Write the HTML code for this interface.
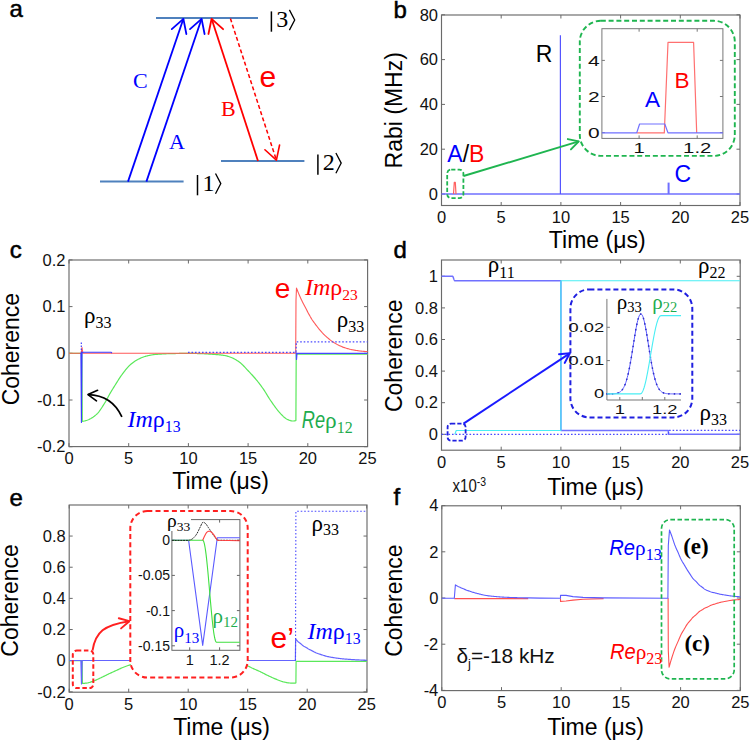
<!DOCTYPE html>
<html><head><meta charset="utf-8"><style>html,body{margin:0;padding:0;background:#fff;}svg{display:block;}</style></head>
<body><svg width="750" height="741" viewBox="0 0 750 741">
<rect width="750" height="741" fill="#fff"/>
<line x1="156.00" y1="18.00" x2="258.00" y2="18.00" stroke="#4f81bd" stroke-width="2" />
<line x1="100.00" y1="181.60" x2="183.60" y2="181.60" stroke="#4f81bd" stroke-width="2" />
<line x1="221.00" y1="161.00" x2="304.40" y2="161.00" stroke="#4f81bd" stroke-width="2" />
<line x1="128.00" y1="181.60" x2="183.40" y2="18.80" stroke="#0000ff" stroke-width="1.8" />
<polyline points="186.36,34.02 183.40,18.80 171.78,29.05" fill="none" stroke="#0000ff" stroke-width="1.8" stroke-linejoin="round" stroke-linecap="round"/>
<line x1="146.40" y1="181.60" x2="201.60" y2="18.80" stroke="#0000ff" stroke-width="1.8" />
<polyline points="204.57,34.01 201.60,18.80 189.99,29.07" fill="none" stroke="#0000ff" stroke-width="1.8" stroke-linejoin="round" stroke-linecap="round"/>
<line x1="258.00" y1="161.00" x2="211.60" y2="18.80" stroke="#ff0000" stroke-width="1.8" />
<polyline points="223.09,29.20 211.60,18.80 208.45,33.98" fill="none" stroke="#ff0000" stroke-width="1.8" stroke-linejoin="round" stroke-linecap="round"/>
<line x1="230.40" y1="18.50" x2="276.40" y2="160.20" stroke="#ff0000" stroke-width="1.5" stroke-dasharray="4 2.5"/>
<polyline points="264.92,149.78 276.40,160.20 279.57,145.03" fill="none" stroke="#ff0000" stroke-width="1.6" stroke-linejoin="round" stroke-linecap="round"/>
<text x="133.00" y="88.00" font-family='"Liberation Serif", serif' font-size="22" text-anchor="start" fill="#0000ff" font-weight="normal" font-style="normal" >C</text>
<text x="169.00" y="149.00" font-family='"Liberation Serif", serif' font-size="22" text-anchor="start" fill="#0000ff" font-weight="normal" font-style="normal" >A</text>
<text x="221.00" y="115.60" font-family='"Liberation Serif", serif' font-size="22" text-anchor="start" fill="#ff0000" font-weight="normal" font-style="normal" >B</text>
<text x="259.50" y="87.00" font-family='"Liberation Sans", sans-serif' font-size="30" text-anchor="start" fill="#ff0000" font-weight="normal" font-style="normal" >e</text>
<line x1="271.40" y1="11.40" x2="271.40" y2="31.70" stroke="#000" stroke-width="1.5" />
<text x="276.30" y="27.10" font-family='"Liberation Serif", serif' font-size="24" text-anchor="start" fill="#000" font-weight="normal" font-style="normal" >3</text>
<path d="M289.4,9.9 L294.7,20.0 L289.4,30.1" fill="none" stroke="#000" stroke-width="1.3" />
<line x1="197.50" y1="175.00" x2="197.50" y2="195.30" stroke="#000" stroke-width="1.5" />
<text x="202.40" y="190.70" font-family='"Liberation Serif", serif' font-size="24" text-anchor="start" fill="#000" font-weight="normal" font-style="normal" >1</text>
<path d="M215.5,173.5 L220.8,183.6 L215.5,193.7" fill="none" stroke="#000" stroke-width="1.3" />
<line x1="317.90" y1="154.50" x2="317.90" y2="174.80" stroke="#000" stroke-width="1.5" />
<text x="322.80" y="170.20" font-family='"Liberation Serif", serif' font-size="24" text-anchor="start" fill="#000" font-weight="normal" font-style="normal" >2</text>
<path d="M335.9,153.0 L341.2,163.1 L335.9,173.2" fill="none" stroke="#000" stroke-width="1.3" />
<text x="9.60" y="17.10" font-family='"Liberation Sans", sans-serif' font-size="24" text-anchor="start" fill="#000" font-weight="normal" font-style="normal" stroke="#000" stroke-width="0.5">a</text>
<rect x="441.5" y="15" width="298.5" height="190.5" fill="none" stroke="#6a6a6a" stroke-width="1.15"/>
<line x1="441.50" y1="205.50" x2="441.50" y2="202.00" stroke="#6a6a6a" stroke-width="1" />
<line x1="441.50" y1="15.00" x2="441.50" y2="18.50" stroke="#6a6a6a" stroke-width="1" />
<text x="0" y="0" transform="translate(441.50,222.90) scale(1.0,1.03) " font-family='"Liberation Sans", sans-serif' font-size="16.5" text-anchor="middle" fill="#111" font-weight="normal" font-style="normal">0</text>
<line x1="501.20" y1="205.50" x2="501.20" y2="202.00" stroke="#6a6a6a" stroke-width="1" />
<line x1="501.20" y1="15.00" x2="501.20" y2="18.50" stroke="#6a6a6a" stroke-width="1" />
<text x="0" y="0" transform="translate(501.20,222.90) scale(1.0,1.03) " font-family='"Liberation Sans", sans-serif' font-size="16.5" text-anchor="middle" fill="#111" font-weight="normal" font-style="normal">5</text>
<line x1="560.90" y1="205.50" x2="560.90" y2="202.00" stroke="#6a6a6a" stroke-width="1" />
<line x1="560.90" y1="15.00" x2="560.90" y2="18.50" stroke="#6a6a6a" stroke-width="1" />
<text x="0" y="0" transform="translate(560.90,222.90) scale(1.0,1.03) " font-family='"Liberation Sans", sans-serif' font-size="16.5" text-anchor="middle" fill="#111" font-weight="normal" font-style="normal">10</text>
<line x1="620.60" y1="205.50" x2="620.60" y2="202.00" stroke="#6a6a6a" stroke-width="1" />
<line x1="620.60" y1="15.00" x2="620.60" y2="18.50" stroke="#6a6a6a" stroke-width="1" />
<text x="0" y="0" transform="translate(620.60,222.90) scale(1.0,1.03) " font-family='"Liberation Sans", sans-serif' font-size="16.5" text-anchor="middle" fill="#111" font-weight="normal" font-style="normal">15</text>
<line x1="680.30" y1="205.50" x2="680.30" y2="202.00" stroke="#6a6a6a" stroke-width="1" />
<line x1="680.30" y1="15.00" x2="680.30" y2="18.50" stroke="#6a6a6a" stroke-width="1" />
<text x="0" y="0" transform="translate(680.30,222.90) scale(1.0,1.03) " font-family='"Liberation Sans", sans-serif' font-size="16.5" text-anchor="middle" fill="#111" font-weight="normal" font-style="normal">20</text>
<line x1="740.00" y1="205.50" x2="740.00" y2="202.00" stroke="#6a6a6a" stroke-width="1" />
<line x1="740.00" y1="15.00" x2="740.00" y2="18.50" stroke="#6a6a6a" stroke-width="1" />
<text x="0" y="0" transform="translate(740.00,222.90) scale(1.0,1.03) " font-family='"Liberation Sans", sans-serif' font-size="16.5" text-anchor="middle" fill="#111" font-weight="normal" font-style="normal">25</text>
<line x1="441.50" y1="194.00" x2="445.00" y2="194.00" stroke="#6a6a6a" stroke-width="1" />
<line x1="740.00" y1="194.00" x2="736.50" y2="194.00" stroke="#6a6a6a" stroke-width="1" />
<text x="0" y="0" transform="translate(438.00,199.70) scale(1.0,1.03) " font-family='"Liberation Sans", sans-serif' font-size="16.5" text-anchor="end" fill="#111" font-weight="normal" font-style="normal">0</text>
<line x1="441.50" y1="149.20" x2="445.00" y2="149.20" stroke="#6a6a6a" stroke-width="1" />
<line x1="740.00" y1="149.20" x2="736.50" y2="149.20" stroke="#6a6a6a" stroke-width="1" />
<text x="0" y="0" transform="translate(438.00,154.90) scale(1.0,1.03) " font-family='"Liberation Sans", sans-serif' font-size="16.5" text-anchor="end" fill="#111" font-weight="normal" font-style="normal">20</text>
<line x1="441.50" y1="104.40" x2="445.00" y2="104.40" stroke="#6a6a6a" stroke-width="1" />
<line x1="740.00" y1="104.40" x2="736.50" y2="104.40" stroke="#6a6a6a" stroke-width="1" />
<text x="0" y="0" transform="translate(438.00,110.10) scale(1.0,1.03) " font-family='"Liberation Sans", sans-serif' font-size="16.5" text-anchor="end" fill="#111" font-weight="normal" font-style="normal">40</text>
<line x1="441.50" y1="59.60" x2="445.00" y2="59.60" stroke="#6a6a6a" stroke-width="1" />
<line x1="740.00" y1="59.60" x2="736.50" y2="59.60" stroke="#6a6a6a" stroke-width="1" />
<text x="0" y="0" transform="translate(438.00,65.30) scale(1.0,1.03) " font-family='"Liberation Sans", sans-serif' font-size="16.5" text-anchor="end" fill="#111" font-weight="normal" font-style="normal">60</text>
<line x1="441.50" y1="14.80" x2="445.00" y2="14.80" stroke="#6a6a6a" stroke-width="1" />
<line x1="740.00" y1="14.80" x2="736.50" y2="14.80" stroke="#6a6a6a" stroke-width="1" />
<text x="0" y="0" transform="translate(438.00,20.50) scale(1.0,1.03) " font-family='"Liberation Sans", sans-serif' font-size="16.5" text-anchor="end" fill="#111" font-weight="normal" font-style="normal">80</text>
<text x="393.50" y="18.40" font-family='"Liberation Sans", sans-serif' font-size="24" text-anchor="start" fill="#000" font-weight="normal" font-style="normal" stroke="#000" stroke-width="0.5">b</text>
<polyline points="441.50,194.00 740.00,194.00" fill="none" stroke="#6f6fff" stroke-width="1.5" stroke-linejoin="round" />
<line x1="560.40" y1="194.00" x2="560.40" y2="35.30" stroke="#5555ff" stroke-width="1.2" />
<line x1="668.60" y1="194.00" x2="668.60" y2="182.60" stroke="#6f6fff" stroke-width="2" />
<polyline points="453.50,194.00 454.30,182.30 455.30,182.30 456.00,194.00" fill="none" stroke="#ff6060" stroke-width="1.2" stroke-linejoin="round" />
<text x="535.80" y="61.90" font-family='"Liberation Sans", sans-serif' font-size="23" text-anchor="start" fill="#000" font-weight="normal" font-style="normal" >R</text>
<text x="674.60" y="181.50" font-family='"Liberation Sans", sans-serif' font-size="23" text-anchor="start" fill="#0000ff" font-weight="normal" font-style="normal" >C</text>
<text x="447.3" y="162.4" font-family='"Liberation Sans", sans-serif' font-size="23"><tspan fill="#0000ff">A</tspan><tspan fill="#000">/</tspan><tspan fill="#ff0000">B</tspan></text>
<rect x="447.20" y="169.60" width="16.20" height="28.60" rx="4" ry="4" fill="none" stroke="#1fb550" stroke-width="1.8" stroke-dasharray="4.2 2.2"/>
<line x1="463.50" y1="176.00" x2="578.80" y2="141.40" stroke="#1fb550" stroke-width="1.9" />
<polyline points="570.93,149.37 578.80,141.40 567.84,139.08" fill="none" stroke="#1fb550" stroke-width="1.9" stroke-linejoin="round" stroke-linecap="round"/>
<rect x="579.80" y="20.80" width="155.00" height="135.10" rx="21" ry="21" fill="none" stroke="#1fb550" stroke-width="1.9" stroke-dasharray="5 2.8"/>
<rect x="601.9" y="28.7" width="121" height="109.7" fill="#fff" stroke="#777" stroke-width="1"/>
<line x1="601.90" y1="132.60" x2="604.90" y2="132.60" stroke="#777" stroke-width="1" />
<line x1="722.90" y1="132.60" x2="719.90" y2="132.60" stroke="#777" stroke-width="1" />
<text x="0" y="0" transform="translate(599.60,138.20) scale(1.35,1.0) " font-family='"Liberation Sans", sans-serif' font-size="15.5" text-anchor="end" fill="#111" font-weight="normal" font-style="normal">0</text>
<line x1="601.90" y1="96.50" x2="604.90" y2="96.50" stroke="#777" stroke-width="1" />
<line x1="722.90" y1="96.50" x2="719.90" y2="96.50" stroke="#777" stroke-width="1" />
<text x="0" y="0" transform="translate(599.60,102.10) scale(1.35,1.0) " font-family='"Liberation Sans", sans-serif' font-size="15.5" text-anchor="end" fill="#111" font-weight="normal" font-style="normal">2</text>
<line x1="601.90" y1="60.40" x2="604.90" y2="60.40" stroke="#777" stroke-width="1" />
<line x1="722.90" y1="60.40" x2="719.90" y2="60.40" stroke="#777" stroke-width="1" />
<text x="0" y="0" transform="translate(599.60,66.00) scale(1.35,1.0) " font-family='"Liberation Sans", sans-serif' font-size="15.5" text-anchor="end" fill="#111" font-weight="normal" font-style="normal">4</text>
<line x1="639.10" y1="138.40" x2="639.10" y2="135.40" stroke="#777" stroke-width="1" />
<line x1="639.10" y1="28.70" x2="639.10" y2="31.70" stroke="#777" stroke-width="1" />
<text x="0" y="0" transform="translate(639.10,153.20) scale(1.4,1.0) " font-family='"Liberation Sans", sans-serif' font-size="14.5" text-anchor="middle" fill="#111" font-weight="normal" font-style="normal">1</text>
<line x1="697.20" y1="138.40" x2="697.20" y2="135.40" stroke="#777" stroke-width="1" />
<line x1="697.20" y1="28.70" x2="697.20" y2="31.70" stroke="#777" stroke-width="1" />
<text x="0" y="0" transform="translate(697.20,153.20) scale(1.4,1.0) " font-family='"Liberation Sans", sans-serif' font-size="14.5" text-anchor="middle" fill="#111" font-weight="normal" font-style="normal">1.2</text>
<polyline points="637.00,132.90 664.30,132.90 668.00,42.40 693.60,42.40 696.70,132.90" fill="none" stroke="#ff7070" stroke-width="1.2" stroke-linejoin="round" />
<polyline points="601.90,132.90 636.70,132.90 639.60,124.00 664.80,124.00 668.00,132.90 722.90,132.90" fill="none" stroke="#7070ff" stroke-width="1.2" stroke-linejoin="round" />
<text x="645.00" y="107.20" font-family='"Liberation Sans", sans-serif' font-size="22.5" text-anchor="start" fill="#0000ff" font-weight="normal" font-style="normal" >A</text>
<text x="674.50" y="88.20" font-family='"Liberation Sans", sans-serif' font-size="22.5" text-anchor="start" fill="#ff0000" font-weight="normal" font-style="normal" >B</text>
<text x="597.20" y="247.60" font-family='"Liberation Sans", sans-serif' font-size="23" text-anchor="middle" fill="#000" font-weight="normal" font-style="normal" >Time (μs)</text>
<text x="0" y="0" transform="translate(401.70,110.30) scale(1.0,1.0) rotate(-90)" font-family='"Liberation Sans", sans-serif' font-size="23" text-anchor="middle" fill="#000" font-weight="normal" font-style="normal">Rabi (MHz)</text>
<rect x="69" y="260" width="298.6" height="186.60000000000002" fill="none" stroke="#6a6a6a" stroke-width="1.15"/>
<line x1="69.00" y1="446.60" x2="69.00" y2="443.10" stroke="#6a6a6a" stroke-width="1" />
<line x1="69.00" y1="260.00" x2="69.00" y2="263.50" stroke="#6a6a6a" stroke-width="1" />
<text x="0" y="0" transform="translate(69.00,464.00) scale(1.0,1.03) " font-family='"Liberation Sans", sans-serif' font-size="16.5" text-anchor="middle" fill="#111" font-weight="normal" font-style="normal">0</text>
<line x1="128.70" y1="446.60" x2="128.70" y2="443.10" stroke="#6a6a6a" stroke-width="1" />
<line x1="128.70" y1="260.00" x2="128.70" y2="263.50" stroke="#6a6a6a" stroke-width="1" />
<text x="0" y="0" transform="translate(128.70,464.00) scale(1.0,1.03) " font-family='"Liberation Sans", sans-serif' font-size="16.5" text-anchor="middle" fill="#111" font-weight="normal" font-style="normal">5</text>
<line x1="188.40" y1="446.60" x2="188.40" y2="443.10" stroke="#6a6a6a" stroke-width="1" />
<line x1="188.40" y1="260.00" x2="188.40" y2="263.50" stroke="#6a6a6a" stroke-width="1" />
<text x="0" y="0" transform="translate(188.40,464.00) scale(1.0,1.03) " font-family='"Liberation Sans", sans-serif' font-size="16.5" text-anchor="middle" fill="#111" font-weight="normal" font-style="normal">10</text>
<line x1="248.10" y1="446.60" x2="248.10" y2="443.10" stroke="#6a6a6a" stroke-width="1" />
<line x1="248.10" y1="260.00" x2="248.10" y2="263.50" stroke="#6a6a6a" stroke-width="1" />
<text x="0" y="0" transform="translate(248.10,464.00) scale(1.0,1.03) " font-family='"Liberation Sans", sans-serif' font-size="16.5" text-anchor="middle" fill="#111" font-weight="normal" font-style="normal">15</text>
<line x1="307.80" y1="446.60" x2="307.80" y2="443.10" stroke="#6a6a6a" stroke-width="1" />
<line x1="307.80" y1="260.00" x2="307.80" y2="263.50" stroke="#6a6a6a" stroke-width="1" />
<text x="0" y="0" transform="translate(307.80,464.00) scale(1.0,1.03) " font-family='"Liberation Sans", sans-serif' font-size="16.5" text-anchor="middle" fill="#111" font-weight="normal" font-style="normal">20</text>
<line x1="367.50" y1="446.60" x2="367.50" y2="443.10" stroke="#6a6a6a" stroke-width="1" />
<line x1="367.50" y1="260.00" x2="367.50" y2="263.50" stroke="#6a6a6a" stroke-width="1" />
<text x="0" y="0" transform="translate(367.50,464.00) scale(1.0,1.03) " font-family='"Liberation Sans", sans-serif' font-size="16.5" text-anchor="middle" fill="#111" font-weight="normal" font-style="normal">25</text>
<line x1="69.00" y1="446.70" x2="72.50" y2="446.70" stroke="#6a6a6a" stroke-width="1" />
<line x1="367.60" y1="446.70" x2="364.10" y2="446.70" stroke="#6a6a6a" stroke-width="1" />
<text x="0" y="0" transform="translate(65.50,452.40) scale(1.0,1.03) " font-family='"Liberation Sans", sans-serif' font-size="16.5" text-anchor="end" fill="#111" font-weight="normal" font-style="normal">-0.2</text>
<line x1="69.00" y1="400.00" x2="72.50" y2="400.00" stroke="#6a6a6a" stroke-width="1" />
<line x1="367.60" y1="400.00" x2="364.10" y2="400.00" stroke="#6a6a6a" stroke-width="1" />
<text x="0" y="0" transform="translate(65.50,405.70) scale(1.0,1.03) " font-family='"Liberation Sans", sans-serif' font-size="16.5" text-anchor="end" fill="#111" font-weight="normal" font-style="normal">-0.1</text>
<line x1="69.00" y1="353.30" x2="72.50" y2="353.30" stroke="#6a6a6a" stroke-width="1" />
<line x1="367.60" y1="353.30" x2="364.10" y2="353.30" stroke="#6a6a6a" stroke-width="1" />
<text x="0" y="0" transform="translate(65.50,359.00) scale(1.0,1.03) " font-family='"Liberation Sans", sans-serif' font-size="16.5" text-anchor="end" fill="#111" font-weight="normal" font-style="normal">0</text>
<line x1="69.00" y1="306.60" x2="72.50" y2="306.60" stroke="#6a6a6a" stroke-width="1" />
<line x1="367.60" y1="306.60" x2="364.10" y2="306.60" stroke="#6a6a6a" stroke-width="1" />
<text x="0" y="0" transform="translate(65.50,312.30) scale(1.0,1.03) " font-family='"Liberation Sans", sans-serif' font-size="16.5" text-anchor="end" fill="#111" font-weight="normal" font-style="normal">0.1</text>
<line x1="69.00" y1="259.90" x2="72.50" y2="259.90" stroke="#6a6a6a" stroke-width="1" />
<line x1="367.60" y1="259.90" x2="364.10" y2="259.90" stroke="#6a6a6a" stroke-width="1" />
<text x="0" y="0" transform="translate(65.50,265.60) scale(1.0,1.03) " font-family='"Liberation Sans", sans-serif' font-size="16.5" text-anchor="end" fill="#111" font-weight="normal" font-style="normal">0.2</text>
<text x="9.80" y="258.00" font-family='"Liberation Sans", sans-serif' font-size="24" text-anchor="start" fill="#000" font-weight="normal" font-style="normal" stroke="#000" stroke-width="0.5">c</text>
<polyline points="69.00,353.30 81.80,353.30 82.30,421.30 82.30,421.30 82.96,421.23 83.63,421.13 84.29,421.00 84.96,420.86 85.62,420.70 86.29,420.52 86.95,420.31 87.62,420.06 88.28,419.78 88.95,419.47 89.61,419.14 90.28,418.80 90.94,418.44 91.61,418.05 92.27,417.63 92.94,417.19 93.60,416.72 94.27,416.23 94.93,415.71 95.60,415.16 96.26,414.58 96.93,413.97 97.59,413.31 98.25,412.57 98.92,411.76 99.58,410.88 100.25,409.96 100.91,408.99 101.58,407.98 102.24,406.95 102.91,405.91 103.57,404.85 104.24,403.80 104.90,402.72 105.57,401.58 106.23,400.39 106.90,399.16 107.56,397.92 108.23,396.69 108.89,395.46 109.56,394.27 110.22,393.12 110.89,392.00 111.55,390.89 112.22,389.80 112.88,388.71 113.54,387.64 114.21,386.57 114.87,385.52 115.54,384.46 116.20,383.40 116.87,382.34 117.53,381.28 118.20,380.23 118.86,379.19 119.53,378.17 120.19,377.17 120.86,376.20 121.52,375.25 122.19,374.35 122.85,373.45 123.52,372.56 124.18,371.67 124.85,370.80 125.51,369.95 126.18,369.12 126.84,368.31 127.51,367.54 128.17,366.80 128.83,366.11 129.50,365.46 130.16,364.86 130.83,364.28 131.49,363.73 132.16,363.20 132.82,362.68 133.49,362.19 134.15,361.72 134.82,361.27 135.48,360.84 136.15,360.43 136.81,360.04 137.48,359.67 138.14,359.33 138.81,359.00 139.47,358.68 140.14,358.36 140.80,358.07 141.47,357.78 142.13,357.50 142.79,357.24 143.46,357.00 144.12,356.77 144.79,356.55 145.45,356.35 146.12,356.17 146.78,355.99 147.45,355.83 148.11,355.66 148.78,355.51 149.44,355.36 150.11,355.22 150.77,355.09 151.44,354.97 152.10,354.86 152.77,354.76 153.43,354.67 154.10,354.59 154.76,354.52 155.43,354.46 156.09,354.40 156.76,354.34 157.42,354.29 158.08,354.24 158.75,354.19 159.41,354.15 160.08,354.11 160.74,354.07 161.41,354.03 162.07,354.00 162.74,353.96 163.40,353.93 164.07,353.89 164.73,353.86 165.40,353.83 166.06,353.80 166.73,353.77 167.39,353.74 168.06,353.72 168.72,353.69 169.39,353.67 170.05,353.65 170.72,353.63 171.38,353.61 172.05,353.60 172.71,353.59 173.37,353.57 174.04,353.56 174.70,353.55 175.37,353.54 176.03,353.52 176.70,353.51 177.36,353.50 178.03,353.49 178.69,353.48 179.36,353.47 180.02,353.46 180.69,353.45 181.35,353.44 182.02,353.44 182.68,353.43 183.35,353.42 184.01,353.42 184.68,353.41 185.34,353.41 186.01,353.40 186.67,353.40 187.34,353.40 188.00,353.40 188.00,353.40 188.67,353.40 189.33,353.40 190.00,353.41 190.66,353.41 191.33,353.42 192.00,353.43 192.66,353.44 193.33,353.45 193.99,353.46 194.66,353.47 195.32,353.49 195.99,353.50 196.66,353.52 197.32,353.53 197.99,353.55 198.65,353.57 199.32,353.58 199.99,353.60 200.65,353.62 201.32,353.64 201.98,353.67 202.65,353.69 203.31,353.73 203.98,353.76 204.65,353.79 205.31,353.83 205.98,353.87 206.64,353.91 207.31,353.95 207.98,353.99 208.64,354.04 209.31,354.08 209.97,354.12 210.64,354.17 211.30,354.21 211.97,354.25 212.64,354.30 213.30,354.34 213.97,354.39 214.63,354.44 215.30,354.49 215.97,354.54 216.63,354.59 217.30,354.65 217.96,354.70 218.63,354.76 219.29,354.83 219.96,354.90 220.63,354.97 221.29,355.05 221.96,355.13 222.62,355.21 223.29,355.30 223.96,355.39 224.62,355.50 225.29,355.63 225.95,355.78 226.62,355.95 227.28,356.13 227.95,356.33 228.62,356.55 229.28,356.77 229.95,357.01 230.61,357.26 231.28,357.52 231.95,357.78 232.61,358.06 233.28,358.36 233.94,358.69 234.61,359.04 235.27,359.42 235.94,359.81 236.61,360.23 237.27,360.66 237.94,361.11 238.60,361.58 239.27,362.06 239.94,362.55 240.60,363.07 241.27,363.63 241.93,364.24 242.60,364.88 243.26,365.54 243.93,366.23 244.60,366.93 245.26,367.65 245.93,368.37 246.59,369.10 247.26,369.82 247.93,370.52 248.59,371.22 249.26,371.92 249.92,372.62 250.59,373.33 251.25,374.04 251.92,374.76 252.59,375.49 253.25,376.23 253.92,376.98 254.58,377.74 255.25,378.51 255.92,379.30 256.58,380.10 257.25,380.92 257.91,381.75 258.58,382.60 259.24,383.45 259.91,384.33 260.58,385.22 261.24,386.12 261.91,387.03 262.57,387.97 263.24,388.91 263.91,389.89 264.57,390.91 265.24,391.96 265.90,393.04 266.57,394.14 267.23,395.24 267.90,396.33 268.57,397.42 269.23,398.48 269.90,399.51 270.56,400.50 271.23,401.46 271.90,402.42 272.56,403.37 273.23,404.32 273.89,405.26 274.56,406.19 275.22,407.11 275.89,408.01 276.56,408.89 277.22,409.75 277.89,410.59 278.55,411.40 279.22,412.18 279.89,412.93 280.55,413.64 281.22,414.32 281.88,415.00 282.55,415.67 283.21,416.33 283.88,416.96 284.55,417.55 285.21,418.09 285.88,418.57 286.54,418.97 287.21,419.30 287.88,419.60 288.54,419.90 289.21,420.18 289.87,420.44 290.54,420.65 291.20,420.83 291.87,420.94 292.54,421.00 293.20,421.00 293.87,420.97 294.53,420.91 295.20,420.80 295.90,420.50 296.20,354.20 367.60,354.20" fill="none" stroke="#5ae85a" stroke-width="1.2" stroke-linejoin="round" />
<polyline points="69.00,353.20 81.20,353.20 82.00,347.50 82.80,353.20 295.70,353.20 296.00,300.00 296.50,288.10 296.50,288.10 297.16,289.80 297.83,291.46 298.49,293.09 299.16,294.68 299.82,296.22 300.49,297.71 301.15,299.16 301.82,300.56 302.48,301.92 303.14,303.24 303.81,304.54 304.47,305.82 305.14,307.09 305.80,308.35 306.47,309.61 307.13,310.87 307.80,312.14 308.46,313.40 309.13,314.63 309.79,315.84 310.45,317.01 311.12,318.13 311.78,319.19 312.45,320.20 313.11,321.18 313.78,322.12 314.44,323.03 315.11,323.93 315.77,324.80 316.43,325.67 317.10,326.53 317.76,327.38 318.43,328.23 319.09,329.06 319.76,329.88 320.42,330.67 321.09,331.45 321.75,332.20 322.41,332.92 323.08,333.61 323.74,334.28 324.41,334.94 325.07,335.57 325.74,336.19 326.40,336.79 327.07,337.37 327.73,337.94 328.40,338.50 329.06,339.04 329.72,339.57 330.39,340.09 331.05,340.59 331.72,341.08 332.38,341.55 333.05,342.00 333.71,342.43 334.38,342.85 335.04,343.26 335.70,343.65 336.37,344.03 337.03,344.39 337.70,344.75 338.36,345.08 339.03,345.41 339.69,345.72 340.36,346.03 341.02,346.32 341.69,346.61 342.35,346.88 343.01,347.14 343.68,347.39 344.34,347.62 345.01,347.84 345.67,348.06 346.34,348.26 347.00,348.46 347.67,348.65 348.33,348.83 348.99,349.00 349.66,349.16 350.32,349.32 350.99,349.46 351.65,349.61 352.32,349.74 352.98,349.87 353.65,350.00 354.31,350.11 354.97,350.23 355.64,350.34 356.30,350.45 356.97,350.56 357.63,350.66 358.30,350.76 358.96,350.85 359.63,350.93 360.29,351.01 360.96,351.08 361.62,351.16 362.28,351.22 362.95,351.29 363.61,351.35 364.28,351.41 364.94,351.46 365.61,351.50 366.27,351.54 366.94,351.57 367.60,351.60" fill="none" stroke="#ff5a5a" stroke-width="1.1" stroke-linejoin="round" />
<polyline points="80.90,353.10 81.40,422.40 82.00,353.00 83.00,352.20 111.00,352.30 112.00,353.10" fill="none" stroke="#3a3aff" stroke-width="1.1" stroke-linejoin="round" />
<polyline points="295.50,352.80 296.30,352.80 296.50,359.50 297.00,353.30 367.60,353.30" fill="none" stroke="#4848ff" stroke-width="1.2" stroke-linejoin="round" />
<line x1="81.30" y1="353.00" x2="81.30" y2="341.50" stroke="#3030ff" stroke-width="1.1" stroke-dasharray="1.5 1.5"/>
<polyline points="188.00,352.40 296.00,352.40 296.30,341.80 367.60,341.80" fill="none" stroke="#4a4aff" stroke-width="1.2" stroke-linejoin="round" stroke-dasharray="1.6 1.9"/>
<text x="83.90" y="322.90" font-family='"Liberation Serif", serif' font-size="23" text-anchor="start" fill="#000" font-weight="normal" font-style="normal" ><tspan font-family='"Liberation Serif", serif'>ρ</tspan><tspan font-family='"Liberation Serif", serif' font-size="16" dy="4.80">33</tspan></text>
<text x="274.70" y="297.50" font-family='"Liberation Sans", sans-serif' font-size="28" text-anchor="start" fill="#ff0000" font-weight="normal" font-style="normal" >e</text>
<text x="0" y="0" transform="translate(305.00,294.70) scale(1.0,1.0) " font-family='"Liberation Serif", serif' font-size="24" text-anchor="start" fill="#ff0000" font-weight="normal" font-style="italic">Im</text>
<text x="330.32" y="294.70" font-family='"Liberation Serif", serif' font-size="24" text-anchor="start" fill="#ff0000" font-weight="normal" font-style="normal" ><tspan font-family='"Liberation Serif", serif'>ρ</tspan><tspan font-family='"Liberation Serif", serif' font-size="15.5" dy="5.28">23</tspan></text>
<text x="336.80" y="326.80" font-family='"Liberation Serif", serif' font-size="23" text-anchor="start" fill="#000" font-weight="normal" font-style="normal" ><tspan font-family='"Liberation Serif", serif'>ρ</tspan><tspan font-family='"Liberation Serif", serif' font-size="16" dy="4.80">33</tspan></text>
<text x="0" y="0" transform="translate(127.50,427.20) scale(1.0,1.0) " font-family='"Liberation Serif", serif' font-size="24" text-anchor="start" fill="#0000ff" font-weight="normal" font-style="italic">Im</text>
<text x="152.82" y="427.20" font-family='"Liberation Serif", serif' font-size="24" text-anchor="start" fill="#0000ff" font-weight="normal" font-style="normal" ><tspan font-family='"Liberation Serif", serif'>ρ</tspan><tspan font-family='"Liberation Serif", serif' font-size="15.8" dy="5.28">13</tspan></text>
<text x="0" y="0" transform="translate(301.80,427.50) scale(0.78,1.0) " font-family='"Liberation Sans", sans-serif' font-size="23.3" text-anchor="start" fill="#1eac4e" font-weight="normal" font-style="italic">Re</text>
<text x="325.03" y="427.50" font-family='"Liberation Serif", serif' font-size="23.3" text-anchor="start" fill="#1eac4e" font-weight="normal" font-style="normal" ><tspan font-family='"Liberation Serif", serif'>ρ</tspan><tspan font-family='"Liberation Serif", serif' font-size="16" dy="5.00">12</tspan></text>
<path d="M121.9,416.9 C116,404 106,395 88,394.6" fill="none" stroke="#000" stroke-width="1.7" />
<polyline points="97.56,390.26 88.00,394.60 96.46,400.82" fill="none" stroke="#000" stroke-width="1.7" stroke-linejoin="round" stroke-linecap="round"/>
<text x="0" y="0" transform="translate(18.60,349.10) scale(1.0,1.0) rotate(-90)" font-family='"Liberation Sans", sans-serif' font-size="23" text-anchor="middle" fill="#000" font-weight="normal" font-style="normal">Coherence</text>
<text x="220.60" y="489.10" font-family='"Liberation Sans", sans-serif' font-size="23" text-anchor="middle" fill="#000" font-weight="normal" font-style="normal" >Time (μs)</text>
<rect x="441.5" y="260" width="298.70000000000005" height="190.2" fill="none" stroke="#6a6a6a" stroke-width="1.15"/>
<line x1="441.50" y1="450.20" x2="441.50" y2="446.70" stroke="#6a6a6a" stroke-width="1" />
<line x1="441.50" y1="260.00" x2="441.50" y2="263.50" stroke="#6a6a6a" stroke-width="1" />
<text x="0" y="0" transform="translate(441.50,467.60) scale(1.0,1.03) " font-family='"Liberation Sans", sans-serif' font-size="16.5" text-anchor="middle" fill="#111" font-weight="normal" font-style="normal">0</text>
<line x1="501.20" y1="450.20" x2="501.20" y2="446.70" stroke="#6a6a6a" stroke-width="1" />
<line x1="501.20" y1="260.00" x2="501.20" y2="263.50" stroke="#6a6a6a" stroke-width="1" />
<text x="0" y="0" transform="translate(501.20,467.60) scale(1.0,1.03) " font-family='"Liberation Sans", sans-serif' font-size="16.5" text-anchor="middle" fill="#111" font-weight="normal" font-style="normal">5</text>
<line x1="560.90" y1="450.20" x2="560.90" y2="446.70" stroke="#6a6a6a" stroke-width="1" />
<line x1="560.90" y1="260.00" x2="560.90" y2="263.50" stroke="#6a6a6a" stroke-width="1" />
<text x="0" y="0" transform="translate(560.90,467.60) scale(1.0,1.03) " font-family='"Liberation Sans", sans-serif' font-size="16.5" text-anchor="middle" fill="#111" font-weight="normal" font-style="normal">10</text>
<line x1="620.60" y1="450.20" x2="620.60" y2="446.70" stroke="#6a6a6a" stroke-width="1" />
<line x1="620.60" y1="260.00" x2="620.60" y2="263.50" stroke="#6a6a6a" stroke-width="1" />
<text x="0" y="0" transform="translate(620.60,467.60) scale(1.0,1.03) " font-family='"Liberation Sans", sans-serif' font-size="16.5" text-anchor="middle" fill="#111" font-weight="normal" font-style="normal">15</text>
<line x1="680.30" y1="450.20" x2="680.30" y2="446.70" stroke="#6a6a6a" stroke-width="1" />
<line x1="680.30" y1="260.00" x2="680.30" y2="263.50" stroke="#6a6a6a" stroke-width="1" />
<text x="0" y="0" transform="translate(680.30,467.60) scale(1.0,1.03) " font-family='"Liberation Sans", sans-serif' font-size="16.5" text-anchor="middle" fill="#111" font-weight="normal" font-style="normal">20</text>
<line x1="740.00" y1="450.20" x2="740.00" y2="446.70" stroke="#6a6a6a" stroke-width="1" />
<line x1="740.00" y1="260.00" x2="740.00" y2="263.50" stroke="#6a6a6a" stroke-width="1" />
<text x="0" y="0" transform="translate(740.00,467.60) scale(1.0,1.03) " font-family='"Liberation Sans", sans-serif' font-size="16.5" text-anchor="middle" fill="#111" font-weight="normal" font-style="normal">25</text>
<line x1="441.50" y1="434.30" x2="445.00" y2="434.30" stroke="#6a6a6a" stroke-width="1" />
<line x1="740.20" y1="434.30" x2="736.70" y2="434.30" stroke="#6a6a6a" stroke-width="1" />
<text x="0" y="0" transform="translate(438.00,440.00) scale(1.0,1.03) " font-family='"Liberation Sans", sans-serif' font-size="16.5" text-anchor="end" fill="#111" font-weight="normal" font-style="normal">0</text>
<line x1="441.50" y1="402.70" x2="445.00" y2="402.70" stroke="#6a6a6a" stroke-width="1" />
<line x1="740.20" y1="402.70" x2="736.70" y2="402.70" stroke="#6a6a6a" stroke-width="1" />
<text x="0" y="0" transform="translate(438.00,408.40) scale(1.0,1.03) " font-family='"Liberation Sans", sans-serif' font-size="16.5" text-anchor="end" fill="#111" font-weight="normal" font-style="normal">0.2</text>
<line x1="441.50" y1="371.10" x2="445.00" y2="371.10" stroke="#6a6a6a" stroke-width="1" />
<line x1="740.20" y1="371.10" x2="736.70" y2="371.10" stroke="#6a6a6a" stroke-width="1" />
<text x="0" y="0" transform="translate(438.00,376.80) scale(1.0,1.03) " font-family='"Liberation Sans", sans-serif' font-size="16.5" text-anchor="end" fill="#111" font-weight="normal" font-style="normal">0.4</text>
<line x1="441.50" y1="339.50" x2="445.00" y2="339.50" stroke="#6a6a6a" stroke-width="1" />
<line x1="740.20" y1="339.50" x2="736.70" y2="339.50" stroke="#6a6a6a" stroke-width="1" />
<text x="0" y="0" transform="translate(438.00,345.20) scale(1.0,1.03) " font-family='"Liberation Sans", sans-serif' font-size="16.5" text-anchor="end" fill="#111" font-weight="normal" font-style="normal">0.6</text>
<line x1="441.50" y1="307.90" x2="445.00" y2="307.90" stroke="#6a6a6a" stroke-width="1" />
<line x1="740.20" y1="307.90" x2="736.70" y2="307.90" stroke="#6a6a6a" stroke-width="1" />
<text x="0" y="0" transform="translate(438.00,313.60) scale(1.0,1.03) " font-family='"Liberation Sans", sans-serif' font-size="16.5" text-anchor="end" fill="#111" font-weight="normal" font-style="normal">0.8</text>
<line x1="441.50" y1="276.30" x2="445.00" y2="276.30" stroke="#6a6a6a" stroke-width="1" />
<line x1="740.20" y1="276.30" x2="736.70" y2="276.30" stroke="#6a6a6a" stroke-width="1" />
<text x="0" y="0" transform="translate(438.00,282.00) scale(1.0,1.03) " font-family='"Liberation Sans", sans-serif' font-size="16.5" text-anchor="end" fill="#111" font-weight="normal" font-style="normal">1</text>
<text x="393.50" y="257.90" font-family='"Liberation Sans", sans-serif' font-size="24" text-anchor="start" fill="#000" font-weight="normal" font-style="normal" stroke="#000" stroke-width="0.5">d</text>
<text x="595.60" y="494.50" font-family='"Liberation Sans", sans-serif' font-size="23" text-anchor="middle" fill="#000" font-weight="normal" font-style="normal" >Time (μs)</text>
<polyline points="441.50,276.30 452.25,276.30 452.43,276.30 452.62,276.34 452.81,276.50 453.00,276.79 453.19,277.18 453.38,277.66 453.57,278.18 453.75,278.73 453.94,279.26 454.13,279.75 454.32,280.16 454.51,280.47 454.70,280.66 454.89,280.72 455.07,280.72 455.26,280.72 455.45,280.72 455.64,280.72 455.83,280.72 560.90,280.72 560.90,430.51 668.36,430.51 668.36,434.30 740.00,434.30" fill="none" stroke="#7070ff" stroke-width="1.5" stroke-linejoin="round" />
<polyline points="454.63,434.30 454.63,434.30 454.83,434.19 455.03,433.86 455.23,433.35 455.43,432.73 455.63,432.07 455.83,431.46 456.03,430.95 456.23,430.62 456.43,430.51 560.90,430.51 560.90,280.72 740.00,280.72" fill="none" stroke="#48eef4" stroke-width="1.15" stroke-linejoin="round" />
<polyline points="441.50,434.30 668.36,434.30 668.96,430.35 740.00,430.35" fill="none" stroke="#4a4aff" stroke-width="1.2" stroke-linejoin="round" stroke-dasharray="1.6 1.9"/>
<rect x="447.60" y="423.60" width="18.00" height="17.00" rx="3.5" ry="3.5" fill="none" stroke="#2020e0" stroke-width="1.8" stroke-dasharray="4.2 2"/>
<line x1="463.50" y1="423.60" x2="569.80" y2="353.30" stroke="#1a1aff" stroke-width="2" />
<polyline points="564.75,362.85 569.80,353.30 559.04,354.21" fill="none" stroke="#1a1aff" stroke-width="2" stroke-linejoin="round" stroke-linecap="round"/>
<rect x="570.40" y="289.40" width="121.90" height="128.00" rx="19" ry="19" fill="none" stroke="#2020e0" stroke-width="2" stroke-dasharray="5 3"/>
<line x1="606.90" y1="298.90" x2="606.90" y2="400.00" stroke="#777" stroke-width="1" />
<line x1="606.90" y1="400.00" x2="681.00" y2="400.00" stroke="#777" stroke-width="1" />
<line x1="606.90" y1="393.90" x2="609.90" y2="393.90" stroke="#777" stroke-width="1" />
<text x="0" y="0" transform="translate(604.20,398.30) scale(1.5,1.0) " font-family='"Liberation Sans", sans-serif' font-size="12.2" text-anchor="end" fill="#111" font-weight="normal" font-style="normal">0</text>
<line x1="606.90" y1="360.60" x2="609.90" y2="360.60" stroke="#777" stroke-width="1" />
<text x="0" y="0" transform="translate(604.20,365.00) scale(1.5,1.0) " font-family='"Liberation Sans", sans-serif' font-size="12.2" text-anchor="end" fill="#111" font-weight="normal" font-style="normal">0.01</text>
<line x1="606.90" y1="327.30" x2="609.90" y2="327.30" stroke="#777" stroke-width="1" />
<text x="0" y="0" transform="translate(604.20,331.70) scale(1.5,1.0) " font-family='"Liberation Sans", sans-serif' font-size="12.2" text-anchor="end" fill="#111" font-weight="normal" font-style="normal">0.02</text>
<line x1="619.80" y1="400.00" x2="619.80" y2="397.00" stroke="#777" stroke-width="1" />
<text x="0" y="0" transform="translate(619.80,413.80) scale(1.5,1.0) " font-family='"Liberation Sans", sans-serif' font-size="12.2" text-anchor="middle" fill="#111" font-weight="normal" font-style="normal">1</text>
<line x1="642.30" y1="400.00" x2="642.30" y2="397.00" stroke="#777" stroke-width="1" />
<line x1="664.80" y1="400.00" x2="664.80" y2="397.00" stroke="#777" stroke-width="1" />
<text x="0" y="0" transform="translate(664.80,413.80) scale(1.5,1.0) " font-family='"Liberation Sans", sans-serif' font-size="12.2" text-anchor="middle" fill="#111" font-weight="normal" font-style="normal">1.2</text>
<polyline points="606.90,393.90 607.40,393.89 607.89,393.89 608.39,393.89 608.89,393.89 609.39,393.88 609.88,393.88 610.38,393.87 610.88,393.86 611.38,393.85 611.87,393.84 612.37,393.82 612.87,393.80 613.37,393.78 613.86,393.75 614.36,393.71 614.86,393.66 615.35,393.60 615.85,393.52 616.35,393.44 616.85,393.33 617.34,393.20 617.84,393.05 618.34,392.87 618.84,392.65 619.33,392.40 619.83,392.10 620.33,391.75 620.82,391.35 621.32,390.88 621.82,390.34 622.32,389.72 622.81,389.01 623.31,388.21 623.81,387.31 624.31,386.30 624.80,385.17 625.30,383.91 625.80,382.51 626.30,380.98 626.79,379.31 627.29,377.48 627.79,375.51 628.28,373.38 628.78,371.11 629.28,368.69 629.78,366.13 630.27,363.44 630.77,360.64 631.27,357.72 631.77,354.72 632.26,351.65 632.76,348.52 633.26,345.38 633.76,342.23 634.25,339.11 634.75,336.05 635.25,333.08 635.74,330.22 636.24,327.50 636.74,324.97 637.24,322.64 637.73,320.54 638.23,318.70 638.73,317.14 639.23,315.87 639.72,314.92 640.22,314.29 640.72,314.00 641.21,314.05 641.71,314.43 642.21,315.14 642.71,316.18 643.20,317.52 643.70,319.16 644.20,321.07 644.70,323.24 645.19,325.62 645.69,328.21 646.19,330.96 646.69,333.86 647.18,336.86 647.68,339.94 648.18,343.07 648.67,346.21 649.17,349.36 649.67,352.47 650.17,355.53 650.66,358.51 651.16,361.39 651.66,364.17 652.16,366.82 652.65,369.35 653.15,371.73 653.65,373.96 654.14,376.05 654.64,377.98 655.14,379.77 655.64,381.40 656.13,382.90 656.63,384.25 657.13,385.48 657.63,386.58 658.12,387.56 658.62,388.44 659.12,389.21 659.62,389.89 660.11,390.49 660.61,391.01 661.11,391.46 661.60,391.85 662.10,392.18 662.60,392.47 663.10,392.71 663.59,392.92 664.09,393.09 664.59,393.24 665.09,393.36 665.58,393.46 666.08,393.55 666.58,393.61 667.08,393.67 667.57,393.72 668.07,393.75 668.57,393.78 669.06,393.81 669.56,393.83 670.06,393.84 670.56,393.86 671.05,393.87 671.55,393.87 672.05,393.88 672.55,393.88 673.04,393.89 673.54,393.89 674.04,393.89 674.53,393.89 675.03,393.90 675.53,393.90 676.03,393.90 676.52,393.90 677.02,393.90 677.52,393.90 678.02,393.90 678.51,393.90 679.01,393.90 679.51,393.90 680.01,393.90 680.50,393.90 681.00,393.90" fill="none" stroke="#5a5aff" stroke-width="1" stroke-linejoin="round" />
<polyline points="606.90,393.90 607.40,393.89 607.89,393.89 608.39,393.89 608.89,393.89 609.39,393.88 609.88,393.88 610.38,393.87 610.88,393.86 611.38,393.85 611.87,393.84 612.37,393.82 612.87,393.80 613.37,393.78 613.86,393.75 614.36,393.71 614.86,393.66 615.35,393.60 615.85,393.52 616.35,393.44 616.85,393.33 617.34,393.20 617.84,393.05 618.34,392.87 618.84,392.65 619.33,392.40 619.83,392.10 620.33,391.75 620.82,391.35 621.32,390.88 621.82,390.34 622.32,389.72 622.81,389.01 623.31,388.21 623.81,387.31 624.31,386.30 624.80,385.17 625.30,383.91 625.80,382.51 626.30,380.98 626.79,379.31 627.29,377.48 627.79,375.51 628.28,373.38 628.78,371.11 629.28,368.69 629.78,366.13 630.27,363.44 630.77,360.64 631.27,357.72 631.77,354.72 632.26,351.65 632.76,348.52 633.26,345.38 633.76,342.23 634.25,339.11 634.75,336.05 635.25,333.08 635.74,330.22 636.24,327.50 636.74,324.97 637.24,322.64 637.73,320.54 638.23,318.70 638.73,317.14 639.23,315.87 639.72,314.92 640.22,314.29 640.72,314.00 641.21,314.05 641.71,314.43 642.21,315.14 642.71,316.18 643.20,317.52 643.70,319.16 644.20,321.07 644.70,323.24 645.19,325.62 645.69,328.21 646.19,330.96 646.69,333.86 647.18,336.86 647.68,339.94 648.18,343.07 648.67,346.21 649.17,349.36 649.67,352.47 650.17,355.53 650.66,358.51 651.16,361.39 651.66,364.17 652.16,366.82 652.65,369.35 653.15,371.73 653.65,373.96 654.14,376.05 654.64,377.98 655.14,379.77 655.64,381.40 656.13,382.90 656.63,384.25 657.13,385.48 657.63,386.58 658.12,387.56 658.62,388.44 659.12,389.21 659.62,389.89 660.11,390.49 660.61,391.01 661.11,391.46 661.60,391.85 662.10,392.18 662.60,392.47 663.10,392.71 663.59,392.92 664.09,393.09 664.59,393.24 665.09,393.36 665.58,393.46 666.08,393.55 666.58,393.61 667.08,393.67 667.57,393.72 668.07,393.75 668.57,393.78 669.06,393.81 669.56,393.83 670.06,393.84 670.56,393.86 671.05,393.87 671.55,393.87 672.05,393.88 672.55,393.88 673.04,393.89 673.54,393.89 674.04,393.89 674.53,393.89 675.03,393.90 675.53,393.90 676.03,393.90 676.52,393.90 677.02,393.90 677.52,393.90 678.02,393.90 678.51,393.90 679.01,393.90 679.51,393.90 680.01,393.90 680.50,393.90 681.00,393.90" fill="none" stroke="#3030c8" stroke-width="1.7" stroke-linejoin="round" stroke-dasharray="0.1 5.5" stroke-linecap="round"/>
<polyline points="606.90,393.90 607.40,393.90 607.89,393.90 608.39,393.90 608.89,393.90 609.39,393.90 609.88,393.90 610.38,393.90 610.88,393.90 611.38,393.90 611.87,393.90 612.37,393.90 612.87,393.90 613.37,393.90 613.86,393.90 614.36,393.90 614.86,393.90 615.35,393.90 615.85,393.90 616.35,393.90 616.85,393.90 617.34,393.90 617.84,393.90 618.34,393.90 618.84,393.90 619.33,393.90 619.83,393.90 620.33,393.90 620.82,393.90 621.32,393.90 621.82,393.90 622.32,393.90 622.81,393.90 623.31,393.90 623.81,393.90 624.31,393.90 624.80,393.90 625.30,393.90 625.80,393.90 626.30,393.90 626.79,393.90 627.29,393.90 627.79,393.90 628.28,393.90 628.78,393.90 629.28,393.90 629.78,393.90 630.27,393.90 630.77,393.90 631.27,393.90 631.77,393.90 632.26,393.90 632.76,393.90 633.26,393.90 633.76,393.90 634.25,393.90 634.75,393.90 635.25,393.90 635.74,393.90 636.24,393.90 636.74,393.90 637.24,393.90 637.73,393.90 638.23,393.90 638.73,393.90 639.23,393.90 639.72,393.90 640.22,393.90 640.72,393.82 641.21,393.52 641.71,393.00 642.21,392.27 642.71,391.32 643.20,390.16 643.70,388.80 644.20,387.25 644.70,385.51 645.19,383.60 645.69,381.52 646.19,379.29 646.69,376.92 647.18,374.43 647.68,371.82 648.18,369.11 648.67,366.33 649.17,363.48 649.67,360.58 650.17,357.64 650.66,354.69 651.16,351.74 651.66,348.81 652.16,345.91 652.65,343.06 653.15,340.28 653.65,337.58 654.14,334.98 654.64,332.49 655.14,330.13 655.64,327.91 656.13,325.84 656.63,323.93 657.13,322.21 657.63,320.66 658.12,319.31 658.62,318.17 659.12,317.23 659.62,316.51 660.11,316.00 660.61,315.71 661.11,315.64 661.60,315.64 662.10,315.64 662.60,315.64 663.10,315.64 663.59,315.64 664.09,315.64 664.59,315.64 665.09,315.64 665.58,315.64 666.08,315.64 666.58,315.64 667.08,315.64 667.57,315.64 668.07,315.64 668.57,315.64 669.06,315.64 669.56,315.64 670.06,315.64 670.56,315.64 671.05,315.64 671.55,315.64 672.05,315.64 672.55,315.64 673.04,315.64 673.54,315.64 674.04,315.64 674.53,315.64 675.03,315.64 675.53,315.64 676.03,315.64 676.52,315.64 677.02,315.64 677.52,315.64 678.02,315.64 678.51,315.64 679.01,315.64 679.51,315.64 680.01,315.64 680.50,315.64 681.00,315.64" fill="none" stroke="#48eef4" stroke-width="1.1" stroke-linejoin="round" />
<text x="616.80" y="309.00" font-family='"Liberation Serif", serif' font-size="21" text-anchor="start" fill="#000" font-weight="normal" font-style="normal" ><tspan font-family='"Liberation Serif", serif'>ρ</tspan><tspan font-family='"Liberation Serif", serif' font-size="14.5" dy="3.00">33</tspan></text>
<text x="652.20" y="309.20" font-family='"Liberation Serif", serif' font-size="21" text-anchor="start" fill="#1eac4e" font-weight="normal" font-style="normal" ><tspan font-family='"Liberation Serif", serif'>ρ</tspan><tspan font-family='"Liberation Serif", serif' font-size="14.5" dy="3.00">22</tspan></text>
<text x="487.80" y="272.00" font-family='"Liberation Serif", serif' font-size="23" text-anchor="start" fill="#000" font-weight="normal" font-style="normal" ><tspan font-family='"Liberation Serif", serif'>ρ</tspan><tspan font-family='"Liberation Serif", serif' font-size="16" dy="5.50">11</tspan></text>
<text x="698.00" y="272.50" font-family='"Liberation Serif", serif' font-size="23" text-anchor="start" fill="#000" font-weight="normal" font-style="normal" ><tspan font-family='"Liberation Serif", serif'>ρ</tspan><tspan font-family='"Liberation Serif", serif' font-size="16" dy="5.10">22</tspan></text>
<text x="699.60" y="420.20" font-family='"Liberation Serif", serif' font-size="23" text-anchor="start" fill="#000" font-weight="normal" font-style="normal" ><tspan font-family='"Liberation Serif", serif'>ρ</tspan><tspan font-family='"Liberation Serif", serif' font-size="16" dy="5.00">33</tspan></text>
<text x="0" y="0" transform="translate(401.70,355.80) scale(1.0,1.0) rotate(-90)" font-family='"Liberation Sans", sans-serif' font-size="23" text-anchor="middle" fill="#000" font-weight="normal" font-style="normal">Coherence</text>
<rect x="69.2" y="505" width="297.8" height="187.20000000000005" fill="none" stroke="#6a6a6a" stroke-width="1.15"/>
<line x1="69.20" y1="692.20" x2="69.20" y2="688.70" stroke="#6a6a6a" stroke-width="1" />
<line x1="69.20" y1="505.00" x2="69.20" y2="508.50" stroke="#6a6a6a" stroke-width="1" />
<text x="0" y="0" transform="translate(69.20,709.60) scale(1.0,1.03) " font-family='"Liberation Sans", sans-serif' font-size="16.5" text-anchor="middle" fill="#111" font-weight="normal" font-style="normal">0</text>
<line x1="128.70" y1="692.20" x2="128.70" y2="688.70" stroke="#6a6a6a" stroke-width="1" />
<line x1="128.70" y1="505.00" x2="128.70" y2="508.50" stroke="#6a6a6a" stroke-width="1" />
<text x="0" y="0" transform="translate(128.70,709.60) scale(1.0,1.03) " font-family='"Liberation Sans", sans-serif' font-size="16.5" text-anchor="middle" fill="#111" font-weight="normal" font-style="normal">5</text>
<line x1="188.20" y1="692.20" x2="188.20" y2="688.70" stroke="#6a6a6a" stroke-width="1" />
<line x1="188.20" y1="505.00" x2="188.20" y2="508.50" stroke="#6a6a6a" stroke-width="1" />
<text x="0" y="0" transform="translate(188.20,709.60) scale(1.0,1.03) " font-family='"Liberation Sans", sans-serif' font-size="16.5" text-anchor="middle" fill="#111" font-weight="normal" font-style="normal">10</text>
<line x1="247.70" y1="692.20" x2="247.70" y2="688.70" stroke="#6a6a6a" stroke-width="1" />
<line x1="247.70" y1="505.00" x2="247.70" y2="508.50" stroke="#6a6a6a" stroke-width="1" />
<text x="0" y="0" transform="translate(247.70,709.60) scale(1.0,1.03) " font-family='"Liberation Sans", sans-serif' font-size="16.5" text-anchor="middle" fill="#111" font-weight="normal" font-style="normal">15</text>
<line x1="307.20" y1="692.20" x2="307.20" y2="688.70" stroke="#6a6a6a" stroke-width="1" />
<line x1="307.20" y1="505.00" x2="307.20" y2="508.50" stroke="#6a6a6a" stroke-width="1" />
<text x="0" y="0" transform="translate(307.20,709.60) scale(1.0,1.03) " font-family='"Liberation Sans", sans-serif' font-size="16.5" text-anchor="middle" fill="#111" font-weight="normal" font-style="normal">20</text>
<line x1="366.70" y1="692.20" x2="366.70" y2="688.70" stroke="#6a6a6a" stroke-width="1" />
<line x1="366.70" y1="505.00" x2="366.70" y2="508.50" stroke="#6a6a6a" stroke-width="1" />
<text x="0" y="0" transform="translate(366.70,709.60) scale(1.0,1.03) " font-family='"Liberation Sans", sans-serif' font-size="16.5" text-anchor="middle" fill="#111" font-weight="normal" font-style="normal">25</text>
<line x1="69.20" y1="691.86" x2="72.70" y2="691.86" stroke="#6a6a6a" stroke-width="1" />
<line x1="367.00" y1="691.86" x2="363.50" y2="691.86" stroke="#6a6a6a" stroke-width="1" />
<text x="0" y="0" transform="translate(65.70,697.56) scale(1.0,1.03) " font-family='"Liberation Sans", sans-serif' font-size="16.5" text-anchor="end" fill="#111" font-weight="normal" font-style="normal">-0.2</text>
<line x1="69.20" y1="660.70" x2="72.70" y2="660.70" stroke="#6a6a6a" stroke-width="1" />
<line x1="367.00" y1="660.70" x2="363.50" y2="660.70" stroke="#6a6a6a" stroke-width="1" />
<text x="0" y="0" transform="translate(65.70,666.40) scale(1.0,1.03) " font-family='"Liberation Sans", sans-serif' font-size="16.5" text-anchor="end" fill="#111" font-weight="normal" font-style="normal">0</text>
<line x1="69.20" y1="629.54" x2="72.70" y2="629.54" stroke="#6a6a6a" stroke-width="1" />
<line x1="367.00" y1="629.54" x2="363.50" y2="629.54" stroke="#6a6a6a" stroke-width="1" />
<text x="0" y="0" transform="translate(65.70,635.24) scale(1.0,1.03) " font-family='"Liberation Sans", sans-serif' font-size="16.5" text-anchor="end" fill="#111" font-weight="normal" font-style="normal">0.2</text>
<line x1="69.20" y1="598.38" x2="72.70" y2="598.38" stroke="#6a6a6a" stroke-width="1" />
<line x1="367.00" y1="598.38" x2="363.50" y2="598.38" stroke="#6a6a6a" stroke-width="1" />
<text x="0" y="0" transform="translate(65.70,604.08) scale(1.0,1.03) " font-family='"Liberation Sans", sans-serif' font-size="16.5" text-anchor="end" fill="#111" font-weight="normal" font-style="normal">0.4</text>
<line x1="69.20" y1="567.22" x2="72.70" y2="567.22" stroke="#6a6a6a" stroke-width="1" />
<line x1="367.00" y1="567.22" x2="363.50" y2="567.22" stroke="#6a6a6a" stroke-width="1" />
<text x="0" y="0" transform="translate(65.70,572.92) scale(1.0,1.03) " font-family='"Liberation Sans", sans-serif' font-size="16.5" text-anchor="end" fill="#111" font-weight="normal" font-style="normal">0.6</text>
<line x1="69.20" y1="536.06" x2="72.70" y2="536.06" stroke="#6a6a6a" stroke-width="1" />
<line x1="367.00" y1="536.06" x2="363.50" y2="536.06" stroke="#6a6a6a" stroke-width="1" />
<text x="0" y="0" transform="translate(65.70,541.76) scale(1.0,1.03) " font-family='"Liberation Sans", sans-serif' font-size="16.5" text-anchor="end" fill="#111" font-weight="normal" font-style="normal">0.8</text>
<text x="9.60" y="505.90" font-family='"Liberation Sans", sans-serif' font-size="24" text-anchor="start" fill="#000" font-weight="normal" font-style="normal" stroke="#000" stroke-width="0.5">e</text>
<polyline points="69.20,660.70 82.10,660.70 82.40,683.40 82.60,683.40 83.26,683.38 83.92,683.35 84.58,683.29 85.24,683.22 85.90,683.14 86.56,683.06 87.21,682.97 87.87,682.85 88.53,682.70 89.19,682.53 89.85,682.34 90.51,682.13 91.17,681.91 91.83,681.69 92.49,681.47 93.15,681.24 93.81,680.98 94.47,680.71 95.13,680.43 95.79,680.14 96.44,679.85 97.10,679.55 97.76,679.26 98.42,678.96 99.08,678.65 99.74,678.33 100.40,678.02 101.06,677.70 101.72,677.38 102.38,677.06 103.04,676.74 103.70,676.41 104.36,676.09 105.01,675.76 105.67,675.43 106.33,675.10 106.99,674.77 107.65,674.45 108.31,674.13 108.97,673.81 109.63,673.50 110.29,673.20 110.95,672.90 111.61,672.60 112.27,672.30 112.93,672.00 113.59,671.71 114.24,671.41 114.90,671.11 115.56,670.82 116.22,670.52 116.88,670.22 117.54,669.91 118.20,669.60 118.86,669.28 119.52,668.96 120.18,668.65 120.84,668.34 121.50,668.04 122.16,667.75 122.81,667.47 123.47,667.21 124.13,666.96 124.79,666.71 125.45,666.46 126.11,666.23 126.77,665.99 127.43,665.76 128.09,665.54 128.75,665.32 129.41,665.11 130.07,664.90 130.73,664.69 131.39,664.49 132.04,664.29 132.70,664.10 133.36,663.91 134.02,663.73 134.68,663.55 135.34,663.37 136.00,663.20" fill="none" stroke="#5ae85a" stroke-width="1.2" stroke-linejoin="round" />
<polyline points="242.00,663.60 242.66,663.81 243.33,664.03 244.00,664.26 244.66,664.51 245.32,664.76 245.99,665.03 246.66,665.31 247.32,665.61 247.98,665.93 248.65,666.27 249.31,666.62 249.98,666.97 250.65,667.32 251.31,667.66 251.97,667.99 252.64,668.30 253.31,668.61 253.97,668.91 254.63,669.20 255.30,669.49 255.97,669.79 256.63,670.08 257.30,670.37 257.96,670.66 258.62,670.96 259.29,671.27 259.95,671.58 260.62,671.90 261.28,672.22 261.95,672.56 262.62,672.89 263.28,673.23 263.94,673.57 264.61,673.91 265.27,674.25 265.94,674.59 266.61,674.92 267.27,675.25 267.94,675.57 268.60,675.88 269.26,676.20 269.93,676.51 270.59,676.83 271.26,677.14 271.93,677.45 272.59,677.75 273.25,678.05 273.92,678.34 274.58,678.62 275.25,678.90 275.91,679.17 276.58,679.43 277.25,679.69 277.91,679.96 278.57,680.22 279.24,680.48 279.90,680.73 280.57,680.97 281.24,681.20 281.90,681.42 282.56,681.62 283.23,681.81 283.89,681.98 284.56,682.13 285.22,682.28 285.89,682.43 286.56,682.57 287.22,682.70 287.88,682.81 288.55,682.90 289.21,682.97 289.88,683.02 290.54,683.05 291.21,683.09 291.88,683.12 292.54,683.15 293.20,683.17 293.87,683.19 294.53,683.20 295.20,683.20 295.90,683.00 296.10,661.30 367.00,661.30" fill="none" stroke="#5ae85a" stroke-width="1.2" stroke-linejoin="round" />
<polyline points="69.20,660.50 80.90,660.50 81.50,683.90 82.10,660.50 295.40,660.50 295.60,640.00 295.80,638.90 296.47,639.82 297.13,640.66 297.80,641.40 298.46,642.01 299.13,642.53 299.79,643.01 300.46,643.51 301.12,644.07 301.79,644.68 302.45,645.28 303.12,645.78 303.79,646.19 304.45,646.56 305.12,646.91 305.78,647.27 306.45,647.68 307.11,648.12 307.78,648.56 308.44,648.97 309.11,649.33 309.77,649.66 310.44,649.98 311.10,650.30 311.77,650.64 312.44,651.00 313.10,651.35 313.77,651.71 314.43,652.06 315.10,652.39 315.76,652.70 316.43,652.98 317.09,653.24 317.76,653.49 318.42,653.72 319.09,653.95 319.76,654.17 320.42,654.39 321.09,654.61 321.75,654.82 322.42,655.03 323.08,655.25 323.75,655.47 324.41,655.68 325.08,655.88 325.74,656.07 326.41,656.25 327.07,656.42 327.74,656.57 328.41,656.71 329.07,656.85 329.74,656.98 330.40,657.10 331.07,657.22 331.73,657.34 332.40,657.45 333.06,657.56 333.73,657.67 334.39,657.78 335.06,657.88 335.73,657.98 336.39,658.08 337.06,658.17 337.72,658.26 338.39,658.35 339.05,658.43 339.72,658.52 340.38,658.59 341.05,658.67 341.71,658.74 342.38,658.81 343.04,658.88 343.71,658.94 344.38,659.00 345.04,659.06 345.71,659.11 346.37,659.17 347.04,659.22 347.70,659.27 348.37,659.33 349.03,659.37 349.70,659.42 350.36,659.47 351.03,659.52 351.70,659.56 352.36,659.60 353.03,659.64 353.69,659.68 354.36,659.72 355.02,659.76 355.69,659.79 356.35,659.83 357.02,659.86 357.68,659.89 358.35,659.92 359.01,659.95 359.68,659.98 360.35,660.01 361.01,660.04 361.68,660.07 362.34,660.10 363.01,660.13 363.67,660.15 364.34,660.18 365.00,660.21 365.67,660.24 366.33,660.27 367.00,660.30" fill="none" stroke="#6464ff" stroke-width="1.2" stroke-linejoin="round" />
<polyline points="295.50,660.50 295.90,511.30 367.00,511.30" fill="none" stroke="#4a4aff" stroke-width="1.1" stroke-linejoin="round" stroke-dasharray="1.6 1.9"/>
<rect x="72.80" y="650.50" width="20.50" height="37.60" rx="4" ry="4" fill="none" stroke="#ff2020" stroke-width="2" stroke-dasharray="4.5 2.6"/>
<path d="M92.5,650.6 C95.5,632 104,625 129.4,621.2" fill="none" stroke="#ff2020" stroke-width="1.9" />
<polyline points="121.06,628.37 129.40,621.20 118.80,618.26" fill="none" stroke="#ff2020" stroke-width="1.9" stroke-linejoin="round" stroke-linecap="round"/>
<rect x="130.30" y="511.10" width="117.40" height="166.40" rx="17" ry="17" fill="#fff" stroke="#ff2020" stroke-width="2" stroke-dasharray="5 3.2"/>
<rect x="171.9" y="519.6" width="68" height="130.7" fill="none" stroke="#666" stroke-width="1"/>
<line x1="171.90" y1="540.20" x2="174.90" y2="540.20" stroke="#666" stroke-width="1" />
<line x1="239.90" y1="540.20" x2="236.90" y2="540.20" stroke="#666" stroke-width="1" />
<text x="170.00" y="545.20" font-family='"Liberation Sans", sans-serif' font-size="14" text-anchor="end" fill="#111" font-weight="normal" font-style="normal" >0</text>
<line x1="171.90" y1="575.40" x2="174.90" y2="575.40" stroke="#666" stroke-width="1" />
<line x1="239.90" y1="575.40" x2="236.90" y2="575.40" stroke="#666" stroke-width="1" />
<text x="170.00" y="580.40" font-family='"Liberation Sans", sans-serif' font-size="14" text-anchor="end" fill="#111" font-weight="normal" font-style="normal" >-0.05</text>
<line x1="171.90" y1="610.60" x2="174.90" y2="610.60" stroke="#666" stroke-width="1" />
<line x1="239.90" y1="610.60" x2="236.90" y2="610.60" stroke="#666" stroke-width="1" />
<text x="170.00" y="615.60" font-family='"Liberation Sans", sans-serif' font-size="14" text-anchor="end" fill="#111" font-weight="normal" font-style="normal" >-0.1</text>
<line x1="171.90" y1="645.80" x2="174.90" y2="645.80" stroke="#666" stroke-width="1" />
<line x1="239.90" y1="645.80" x2="236.90" y2="645.80" stroke="#666" stroke-width="1" />
<text x="170.00" y="650.80" font-family='"Liberation Sans", sans-serif' font-size="14" text-anchor="end" fill="#111" font-weight="normal" font-style="normal" >-0.15</text>
<line x1="189.70" y1="650.30" x2="189.70" y2="647.30" stroke="#666" stroke-width="1" />
<line x1="189.70" y1="519.60" x2="189.70" y2="522.60" stroke="#666" stroke-width="1" />
<text x="189.70" y="665.20" font-family='"Liberation Sans", sans-serif' font-size="14.5" text-anchor="middle" fill="#111" font-weight="normal" font-style="normal" >1</text>
<line x1="219.60" y1="650.30" x2="219.60" y2="647.30" stroke="#666" stroke-width="1" />
<line x1="219.60" y1="519.60" x2="219.60" y2="522.60" stroke="#666" stroke-width="1" />
<text x="219.60" y="665.20" font-family='"Liberation Sans", sans-serif' font-size="14.5" text-anchor="middle" fill="#111" font-weight="normal" font-style="normal" >1.2</text>
<polyline points="171.90,540.20 188.60,540.20 202.70,645.40 217.30,537.80 239.90,537.80" fill="none" stroke="#5a5aff" stroke-width="1.1" stroke-linejoin="round" />
<polyline points="171.90,540.20 202.70,540.20 202.70,540.20 203.18,540.50 203.65,541.39 204.13,542.87 204.60,544.91 205.08,547.50 205.56,550.60 206.03,554.17 206.51,558.18 206.98,562.58 207.46,567.31 207.93,572.32 208.41,577.56 208.89,582.95 209.36,588.44 209.84,593.96 210.31,599.45 210.79,604.84 211.27,610.08 211.74,615.09 212.22,619.82 212.69,624.22 213.17,628.23 213.64,631.80 214.12,634.90 214.60,637.49 215.07,639.53 215.55,641.01 216.02,641.90 216.50,642.20 239.90,642.20" fill="none" stroke="#40e040" stroke-width="1.1" stroke-linejoin="round" />
<polyline points="171.90,540.40 188.00,540.40 188.00,540.30 188.66,540.25 189.31,540.13 189.97,539.95 190.62,539.73 191.28,539.49 191.93,539.15 192.59,538.70 193.24,538.17 193.90,537.59 194.56,536.93 195.21,536.14 195.87,535.24 196.52,534.25 197.18,533.21 197.83,531.98 198.49,530.62 199.14,529.21 199.80,527.88 200.46,526.58 201.11,525.10 201.77,523.70 202.42,522.64 203.08,522.20 203.73,522.33 204.39,522.67 205.04,523.14 205.70,523.67 206.36,524.46 207.01,525.45 207.67,526.50 208.32,527.47 208.98,528.44 209.63,529.43 210.29,530.43 210.94,531.42 211.60,532.42 212.26,533.43 212.91,534.44 213.57,535.40 214.22,536.30 214.88,537.15 215.53,537.97 216.19,538.75 216.84,539.50 217.50,540.20 239.90,540.40" fill="none" stroke="#222" stroke-width="1" stroke-linejoin="round" stroke-dasharray="2 0.8"/>
<polyline points="202.70,540.20 203.47,538.43 204.24,536.73 205.01,535.17 205.77,533.80 206.54,532.68 207.31,531.85 208.08,531.35 208.85,531.20 209.62,531.30 210.38,531.58 211.15,532.04 211.92,532.66 212.69,533.43 213.46,534.33 214.23,535.36 214.99,536.48 215.76,537.68 216.53,538.93 217.30,540.20 239.90,540.80" fill="none" stroke="#ff4040" stroke-width="1.1" stroke-linejoin="round" />
<rect x="167" y="513" width="24" height="18" fill="#fff"/>
<text x="167.00" y="527.00" font-family='"Liberation Serif", serif' font-size="19.5" text-anchor="start" fill="#000" font-weight="normal" font-style="normal" ><tspan font-family='"Liberation Serif", serif'>ρ</tspan><tspan font-family='"Liberation Serif", serif' font-size="13.5" dy="3.50">33</tspan></text>
<text x="212.60" y="623.10" font-family='"Liberation Serif", serif' font-size="21" text-anchor="start" fill="#1eac4e" font-weight="normal" font-style="normal" ><tspan font-family='"Liberation Serif", serif'>ρ</tspan><tspan font-family='"Liberation Serif", serif' font-size="15" dy="4.00">12</tspan></text>
<text x="173.80" y="637.00" font-family='"Liberation Serif", serif' font-size="21" text-anchor="start" fill="#0000ff" font-weight="normal" font-style="normal" ><tspan font-family='"Liberation Serif", serif'>ρ</tspan><tspan font-family='"Liberation Serif", serif' font-size="15" dy="5.50">13</tspan></text>
<text x="270.50" y="647.50" font-family='"Liberation Sans", sans-serif' font-size="30" text-anchor="start" fill="#ff0000" font-weight="normal" font-style="normal" >e’</text>
<text x="0" y="0" transform="translate(307.50,638.80) scale(1.0,1.0) " font-family='"Liberation Serif", serif' font-size="24" text-anchor="start" fill="#0000ff" font-weight="normal" font-style="italic">Im</text>
<text x="332.82" y="638.80" font-family='"Liberation Serif", serif' font-size="24" text-anchor="start" fill="#0000ff" font-weight="normal" font-style="normal" ><tspan font-family='"Liberation Serif", serif'>ρ</tspan><tspan font-family='"Liberation Serif", serif' font-size="15.8" dy="5.20">13</tspan></text>
<text x="311.60" y="530.50" font-family='"Liberation Serif", serif' font-size="23" text-anchor="start" fill="#000" font-weight="normal" font-style="normal" ><tspan font-family='"Liberation Serif", serif'>ρ</tspan><tspan font-family='"Liberation Serif", serif' font-size="16" dy="4.80">33</tspan></text>
<text x="0" y="0" transform="translate(18.40,600.40) scale(1.0,1.0) rotate(-90)" font-family='"Liberation Sans", sans-serif' font-size="23" text-anchor="middle" fill="#000" font-weight="normal" font-style="normal">Coherence</text>
<text x="221.50" y="735.30" font-family='"Liberation Sans", sans-serif' font-size="23" text-anchor="middle" fill="#000" font-weight="normal" font-style="normal" >Time (μs)</text>
<rect x="441.8" y="505.8" width="298.49999999999994" height="184.8" fill="none" stroke="#6a6a6a" stroke-width="1.15"/>
<line x1="441.80" y1="690.60" x2="441.80" y2="687.10" stroke="#6a6a6a" stroke-width="1" />
<line x1="441.80" y1="505.80" x2="441.80" y2="509.30" stroke="#6a6a6a" stroke-width="1" />
<text x="0" y="0" transform="translate(441.80,708.00) scale(1.0,1.03) " font-family='"Liberation Sans", sans-serif' font-size="16.5" text-anchor="middle" fill="#111" font-weight="normal" font-style="normal">0</text>
<line x1="501.50" y1="690.60" x2="501.50" y2="687.10" stroke="#6a6a6a" stroke-width="1" />
<line x1="501.50" y1="505.80" x2="501.50" y2="509.30" stroke="#6a6a6a" stroke-width="1" />
<text x="0" y="0" transform="translate(501.50,708.00) scale(1.0,1.03) " font-family='"Liberation Sans", sans-serif' font-size="16.5" text-anchor="middle" fill="#111" font-weight="normal" font-style="normal">5</text>
<line x1="561.20" y1="690.60" x2="561.20" y2="687.10" stroke="#6a6a6a" stroke-width="1" />
<line x1="561.20" y1="505.80" x2="561.20" y2="509.30" stroke="#6a6a6a" stroke-width="1" />
<text x="0" y="0" transform="translate(561.20,708.00) scale(1.0,1.03) " font-family='"Liberation Sans", sans-serif' font-size="16.5" text-anchor="middle" fill="#111" font-weight="normal" font-style="normal">10</text>
<line x1="620.90" y1="690.60" x2="620.90" y2="687.10" stroke="#6a6a6a" stroke-width="1" />
<line x1="620.90" y1="505.80" x2="620.90" y2="509.30" stroke="#6a6a6a" stroke-width="1" />
<text x="0" y="0" transform="translate(620.90,708.00) scale(1.0,1.03) " font-family='"Liberation Sans", sans-serif' font-size="16.5" text-anchor="middle" fill="#111" font-weight="normal" font-style="normal">15</text>
<line x1="680.60" y1="690.60" x2="680.60" y2="687.10" stroke="#6a6a6a" stroke-width="1" />
<line x1="680.60" y1="505.80" x2="680.60" y2="509.30" stroke="#6a6a6a" stroke-width="1" />
<text x="0" y="0" transform="translate(680.60,708.00) scale(1.0,1.03) " font-family='"Liberation Sans", sans-serif' font-size="16.5" text-anchor="middle" fill="#111" font-weight="normal" font-style="normal">20</text>
<line x1="740.30" y1="690.60" x2="740.30" y2="687.10" stroke="#6a6a6a" stroke-width="1" />
<line x1="740.30" y1="505.80" x2="740.30" y2="509.30" stroke="#6a6a6a" stroke-width="1" />
<text x="0" y="0" transform="translate(740.30,708.00) scale(1.0,1.03) " font-family='"Liberation Sans", sans-serif' font-size="16.5" text-anchor="middle" fill="#111" font-weight="normal" font-style="normal">25</text>
<line x1="441.80" y1="690.40" x2="445.30" y2="690.40" stroke="#6a6a6a" stroke-width="1" />
<line x1="740.30" y1="690.40" x2="736.80" y2="690.40" stroke="#6a6a6a" stroke-width="1" />
<text x="0" y="0" transform="translate(438.30,696.10) scale(1.0,1.03) " font-family='"Liberation Sans", sans-serif' font-size="16.5" text-anchor="end" fill="#111" font-weight="normal" font-style="normal">-4</text>
<line x1="441.80" y1="644.20" x2="445.30" y2="644.20" stroke="#6a6a6a" stroke-width="1" />
<line x1="740.30" y1="644.20" x2="736.80" y2="644.20" stroke="#6a6a6a" stroke-width="1" />
<text x="0" y="0" transform="translate(438.30,649.90) scale(1.0,1.03) " font-family='"Liberation Sans", sans-serif' font-size="16.5" text-anchor="end" fill="#111" font-weight="normal" font-style="normal">-2</text>
<line x1="441.80" y1="598.00" x2="445.30" y2="598.00" stroke="#6a6a6a" stroke-width="1" />
<line x1="740.30" y1="598.00" x2="736.80" y2="598.00" stroke="#6a6a6a" stroke-width="1" />
<text x="0" y="0" transform="translate(438.30,603.70) scale(1.0,1.03) " font-family='"Liberation Sans", sans-serif' font-size="16.5" text-anchor="end" fill="#111" font-weight="normal" font-style="normal">0</text>
<line x1="441.80" y1="551.80" x2="445.30" y2="551.80" stroke="#6a6a6a" stroke-width="1" />
<line x1="740.30" y1="551.80" x2="736.80" y2="551.80" stroke="#6a6a6a" stroke-width="1" />
<text x="0" y="0" transform="translate(438.30,557.50) scale(1.0,1.03) " font-family='"Liberation Sans", sans-serif' font-size="16.5" text-anchor="end" fill="#111" font-weight="normal" font-style="normal">2</text>
<line x1="441.80" y1="505.60" x2="445.30" y2="505.60" stroke="#6a6a6a" stroke-width="1" />
<line x1="740.30" y1="505.60" x2="736.80" y2="505.60" stroke="#6a6a6a" stroke-width="1" />
<text x="0" y="0" transform="translate(438.30,511.30) scale(1.0,1.03) " font-family='"Liberation Sans", sans-serif' font-size="16.5" text-anchor="end" fill="#111" font-weight="normal" font-style="normal">4</text>
<text x="393.60" y="505.10" font-family='"Liberation Sans", sans-serif' font-size="24" text-anchor="start" fill="#000" font-weight="normal" font-style="normal" stroke="#000" stroke-width="0.5">f</text>
<text x="595.60" y="735.40" font-family='"Liberation Sans", sans-serif' font-size="23" text-anchor="middle" fill="#000" font-weight="normal" font-style="normal" >Time (μs)</text>
<text x="0" y="0" transform="translate(452.6,491.8) scale(1,1.17)" font-family='"Liberation Sans", sans-serif' font-size="15" fill="#111">x10<tspan font-size="10.5" dy="-4.6">-3</tspan></text>
<polyline points="454.30,598.60 528.20,598.60" fill="none" stroke="#ff5050" stroke-width="1.1" stroke-linejoin="round" />
<polyline points="560.50,598.40 560.50,601.40 566.00,601.00 573.00,600.10 583.00,599.30 603.60,598.60" fill="none" stroke="#ff5050" stroke-width="1.1" stroke-linejoin="round" />
<polyline points="667.90,598.30 668.10,598.60 668.30,650.80 669.10,667.20 669.77,664.77 670.43,662.42 671.10,660.16 671.76,657.97 672.43,655.88 673.09,653.85 673.76,651.89 674.42,650.03 675.09,648.27 675.75,646.64 676.42,645.10 677.09,643.60 677.75,642.12 678.42,640.60 679.08,639.02 679.75,637.44 680.41,635.93 681.08,634.55 681.74,633.30 682.41,632.14 683.07,631.03 683.74,629.94 684.40,628.82 685.07,627.67 685.74,626.51 686.40,625.40 687.07,624.41 687.73,623.52 688.40,622.71 689.06,621.94 689.73,621.17 690.39,620.39 691.06,619.57 691.72,618.74 692.39,617.95 693.06,617.25 693.72,616.63 694.39,616.07 695.05,615.54 695.72,615.00 696.38,614.42 697.05,613.75 697.71,613.04 698.38,612.35 699.04,611.77 699.71,611.29 700.37,610.86 701.04,610.47 701.71,610.08 702.37,609.68 703.04,609.25 703.70,608.79 704.37,608.36 705.03,607.98 705.70,607.67 706.36,607.40 707.03,607.15 707.69,606.89 708.36,606.61 709.03,606.28 709.69,605.89 710.36,605.51 711.02,605.19 711.69,604.95 712.35,604.74 713.02,604.54 713.68,604.36 714.35,604.17 715.01,603.97 715.68,603.77 716.34,603.56 717.01,603.35 717.68,603.14 718.34,602.94 719.01,602.75 719.67,602.56 720.34,602.39 721.00,602.23 721.67,602.08 722.33,601.94 723.00,601.80 723.66,601.67 724.33,601.55 725.00,601.43 725.66,601.31 726.33,601.19 726.99,601.07 727.66,600.94 728.32,600.82 728.99,600.69 729.65,600.57 730.32,600.46 730.98,600.35 731.65,600.25 732.31,600.16 732.98,600.08 733.65,600.01 734.31,599.95 734.98,599.89 735.64,599.84 736.31,599.79 736.97,599.74 737.64,599.69 738.30,599.64 738.97,599.59 739.63,599.55 740.30,599.50" fill="none" stroke="#ff5050" stroke-width="1.1" stroke-linejoin="round" />
<polyline points="441.80,598.30 454.30,598.30 455.40,584.90 455.40,584.90 456.06,585.31 456.72,585.70 457.39,586.07 458.05,586.42 458.71,586.75 459.37,587.07 460.03,587.37 460.69,587.66 461.36,587.96 462.02,588.25 462.68,588.54 463.34,588.82 464.00,589.10 464.67,589.37 465.33,589.63 465.99,589.89 466.65,590.14 467.31,590.39 467.97,590.64 468.64,590.87 469.30,591.10 469.96,591.33 470.62,591.55 471.28,591.77 471.95,591.98 472.61,592.18 473.27,592.38 473.93,592.57 474.59,592.76 475.25,592.94 475.92,593.11 476.58,593.29 477.24,593.46 477.90,593.63 478.56,593.80 479.23,593.97 479.89,594.13 480.55,594.29 481.21,594.45 481.87,594.61 482.53,594.77 483.20,594.92 483.86,595.07 484.52,595.21 485.18,595.33 485.84,595.45 486.51,595.55 487.17,595.65 487.83,595.75 488.49,595.84 489.15,595.92 489.81,595.99 490.48,596.06 491.14,596.13 491.80,596.19 492.46,596.25 493.12,596.31 493.79,596.37 494.45,596.44 495.11,596.50 495.77,596.57 496.43,596.63 497.09,596.69 497.76,596.75 498.42,596.81 499.08,596.86 499.74,596.91 500.40,596.96 501.07,597.00 501.73,597.05 502.39,597.08 503.05,597.12 503.71,597.16 504.37,597.19 505.04,597.23 505.70,597.26 506.36,597.29 507.02,597.32 507.68,597.35 508.35,597.37 509.01,597.40 509.67,597.43 510.33,597.45 510.99,597.48 511.65,597.50 512.32,597.53 512.98,597.55 513.64,597.57 514.30,597.59 514.96,597.61 515.63,597.63 516.29,597.65 516.95,597.67 517.61,597.69 518.27,597.71 518.93,597.72 519.60,597.74 520.26,597.75 520.92,597.77 521.58,597.78 522.24,597.80 522.91,597.81 523.57,597.83 524.23,597.84 524.89,597.85 525.55,597.86 526.21,597.87 526.88,597.88 527.54,597.89 528.20,597.90 540.00,598.10 560.50,598.20 560.50,595.20 566.00,595.40 573.00,596.60 583.00,597.40 603.60,597.90 667.90,598.20 668.30,545.50 669.50,530.00 669.50,530.00 670.16,531.73 670.82,533.49 671.49,535.29 672.15,537.13 672.81,539.07 673.47,541.09 674.13,543.09 674.79,544.96 675.46,546.63 676.12,548.18 676.78,549.65 677.44,551.10 678.10,552.58 678.76,554.13 679.43,555.74 680.09,557.32 680.75,558.79 681.41,560.08 682.07,561.25 682.73,562.35 683.40,563.41 684.06,564.49 684.72,565.62 685.38,566.76 686.04,567.90 686.70,569.01 687.37,570.09 688.03,571.14 688.69,572.16 689.35,573.17 690.01,574.17 690.67,575.16 691.34,576.18 692.00,577.16 692.66,578.08 693.32,578.87 693.98,579.57 694.64,580.20 695.31,580.82 695.97,581.46 696.63,582.15 697.29,582.91 697.95,583.70 698.61,584.43 699.28,585.04 699.94,585.57 700.60,586.05 701.26,586.51 701.92,586.97 702.58,587.47 703.25,588.02 703.91,588.59 704.57,589.12 705.23,589.53 705.89,589.87 706.55,590.17 707.22,590.44 707.88,590.70 708.54,590.97 709.20,591.27 709.86,591.57 710.52,591.84 711.19,592.05 711.85,592.22 712.51,592.37 713.17,592.50 713.83,592.63 714.49,592.78 715.16,592.93 715.82,593.10 716.48,593.27 717.14,593.44 717.80,593.62 718.46,593.79 719.13,593.95 719.79,594.11 720.45,594.25 721.11,594.38 721.77,594.50 722.43,594.62 723.10,594.73 723.76,594.83 724.42,594.93 725.08,595.04 725.74,595.14 726.40,595.24 727.07,595.34 727.73,595.45 728.39,595.56 729.05,595.67 729.71,595.77 730.37,595.88 731.04,595.98 731.70,596.07 732.36,596.15 733.02,596.22 733.68,596.29 734.34,596.35 735.01,596.41 735.67,596.46 736.33,596.51 736.99,596.56 737.65,596.61 738.31,596.66 738.98,596.71 739.64,596.75 740.30,596.80" fill="none" stroke="#5c5cff" stroke-width="1.1" stroke-linejoin="round" />
<rect x="661.50" y="519.60" width="72.70" height="159.30" rx="9" ry="9" fill="none" stroke="#1fb550" stroke-width="1.7" stroke-dasharray="4.5 2.5"/>
<text x="0" y="0" transform="translate(609.30,555.30) scale(0.95,1.0) " font-family='"Liberation Sans", sans-serif' font-size="21.2" text-anchor="start" fill="#0000ff" font-weight="normal" font-style="italic">Re</text>
<text x="635.05" y="555.30" font-family='"Liberation Serif", serif' font-size="21.2" text-anchor="start" fill="#0000ff" font-weight="normal" font-style="normal" ><tspan font-family='"Liberation Serif", serif'>ρ</tspan><tspan font-family='"Liberation Serif", serif' font-size="16" dy="5.00">13</tspan></text>
<text x="0" y="0" transform="translate(609.90,659.20) scale(0.95,1.0) " font-family='"Liberation Sans", sans-serif' font-size="21.2" text-anchor="start" fill="#ff0000" font-weight="normal" font-style="italic">Re</text>
<text x="635.65" y="659.20" font-family='"Liberation Serif", serif' font-size="21.2" text-anchor="start" fill="#ff0000" font-weight="normal" font-style="normal" ><tspan font-family='"Liberation Serif", serif'>ρ</tspan><tspan font-family='"Liberation Serif", serif' font-size="16" dy="4.50">23</tspan></text>
<text x="683.20" y="553.60" font-family='"Liberation Serif", serif' font-size="23" text-anchor="start" fill="#000" font-weight="bold" font-style="normal" >(e)</text>
<text x="684.40" y="651.40" font-family='"Liberation Serif", serif' font-size="23" text-anchor="start" fill="#000" font-weight="bold" font-style="normal" >(c)</text>
<text x="456.5" y="663.2" font-family='"Liberation Sans", sans-serif' font-size="20.8" fill="#111"><tspan>δ</tspan><tspan font-size="13" dy="4.5">j</tspan><tspan dy="-4.5">=-18 kHz</tspan></text>
<text x="0" y="0" transform="translate(401.70,600.60) scale(1.0,1.0) rotate(-90)" font-family='"Liberation Sans", sans-serif' font-size="23" text-anchor="middle" fill="#000" font-weight="normal" font-style="normal">Coherence</text>
</svg></body></html>
